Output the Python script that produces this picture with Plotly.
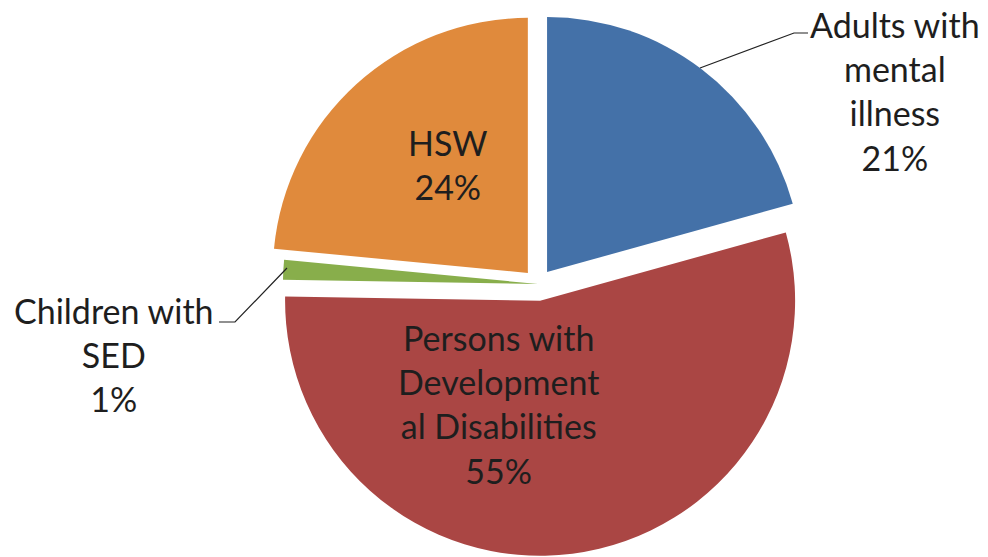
import plotly.graph_objects as go

# ---- data ----
categories = ["Adults with mental illness", "Persons with Developmental Disabilities",
              "Children with SED", "HSW"]
label_lines = ["Adults with<br>mental<br>illness", "Persons with<br>Development<br>al Disabilities",
               "Children with<br>SED", "HSW"]
values = [20.7, 54.6, 1.25, 23.5]
pct_labels = ["21%", "55%", "1%", "24%"]

# ---- style ----
colors = ["#4471A8", "#AA4644", "#88AE4B", "#E08A3C"]
W, H = 988, 557
FONT = "Lato"
FS = 34
TXT = "#1e1e1e"

def px(x, y):
    return x / W, 1 - y / H

fig = go.Figure(go.Pie(
    labels=categories,
    values=values,
    sort=False,
    direction="clockwise",
    rotation=0,
    pull=[0.059, 0.066, 0.0, 0.059],
    marker=dict(colors=colors, line=dict(width=0)),
    textinfo="none",
    showlegend=False,
    domain=dict(x=[0.2445, 0.8445], y=[0.00205, 0.97815]),
))

# label centres in pixels
label_pos = [(895, 91), (499, 404), (114, 354), (448, 164)]
annotations = []
for i, (lx, ly) in enumerate(label_pos):
    ax, ay = px(lx, ly)
    annotations.append(dict(
        x=ax, y=ay, xref="paper", yref="paper",
        text=f"{label_lines[i]}<br>{pct_labels[i]}",
        showarrow=False, xanchor="center", yanchor="middle",
        font=dict(family=FONT, size=FS, color=TXT),
    ))

def path(points):
    s = ""
    for j, (x, y) in enumerate(points):
        X, Y = px(x, y)
        s += ("M" if j == 0 else "L") + f"{X},{Y} "
    return s.strip()

leaders = [
    [(700, 68), (794, 33), (808, 33)],
    [(219, 322), (235, 322), (287, 268)],
]
shapes = [dict(type="path", xref="paper", yref="paper", path=path(p),
               line=dict(color="#222222", width=1.2)) for p in leaders]

fig.update_layout(
    width=W, height=H,
    margin=dict(l=0, r=0, t=0, b=0),
    paper_bgcolor="white", plot_bgcolor="white",
    annotations=annotations,
    shapes=shapes,
)

fig.write_html("out.html")
